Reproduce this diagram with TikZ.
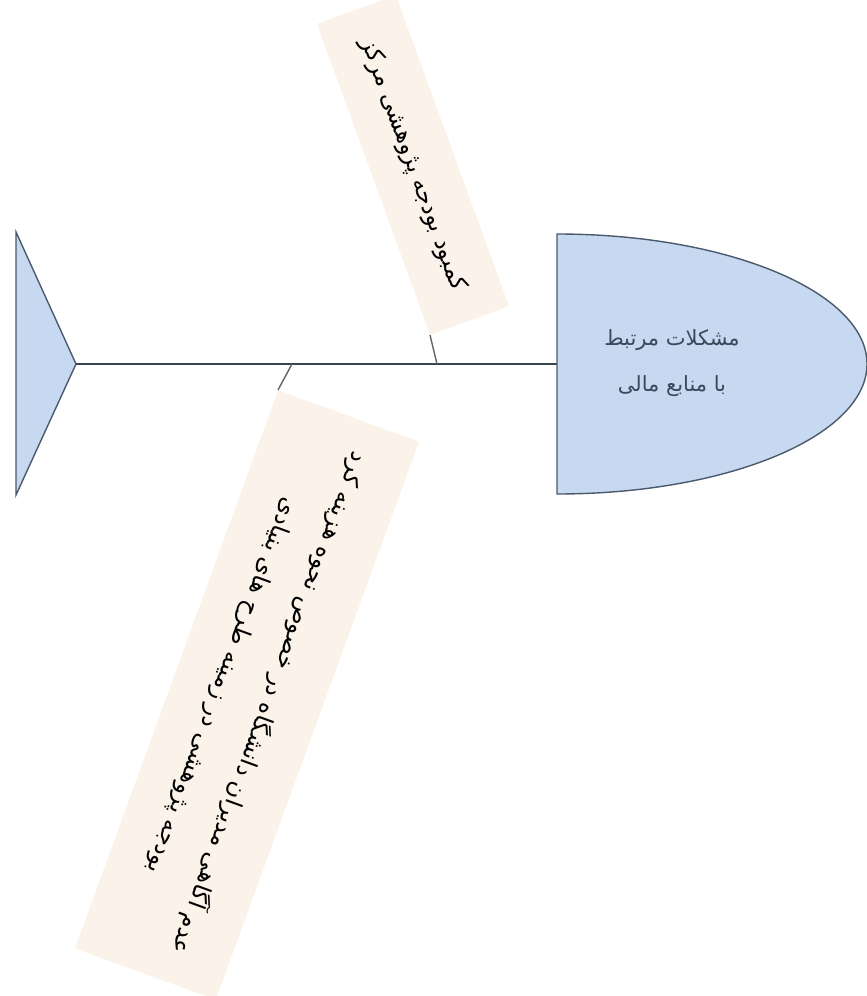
\documentclass[tikz,border=0pt]{standalone}
\usepackage{fontspec}
\newfontfamily\arabicfont[Script=Arabic]{DejaVu Sans}
\TeXXeTstate=1
\definecolor{shapefill}{HTML}{C6D9F1}
\definecolor{shapeline}{HTML}{4A5A6C}
\definecolor{spineline}{HTML}{3A4450}
\definecolor{boneline}{HTML}{5E646C}
\definecolor{boxfill}{HTML}{FBF3EA}
\definecolor{headtext}{HTML}{3A4A5C}
\begin{document}
\begin{tikzpicture}[x=1pt,y=-1pt,
  fishpart/.style={fill=shapefill, draw=shapeline, line width=1.4pt, line join=miter},
  spine/.style={draw=spineline, line width=1.5pt},
  bone/.style={draw=boneline, line width=1.4pt},
  causebox/.style={fill=boxfill, draw=none, inner sep=0pt, align=center,
    font=\arabicfont\fontsize{23.5}{50}\selectfont},
  headlabel/.style={align=center, text=headtext, inner sep=0pt,
    font=\arabicfont\fontsize{21}{46}\selectfont}]
\useasboundingbox (0,0) rectangle (867,996);
% tail
\draw[fishpart] (16,232) -- (76,364) -- (16,495) -- cycle;
\coordinate (tailtip) at (76,364);
\coordinate (headleft) at (557,364);
\coordinate (ub) at (437,364);
\coordinate (lb) at (292,364);
% spine
\draw[spine] (tailtip) -- (headleft);
% head
\draw[fishpart] (557,234) arc[start angle=-90,end angle=90,x radius=310,y radius=130] -- cycle;
\node[headlabel] (head) at (672,363) {\beginR مشکلات مرتبط\endR\\\beginR با منابع مالی\endR};
% cause boxes
\node[causebox, minimum width=331pt, minimum height=84pt, rotate=-70] (upper) at (413,165)
  {\beginR کمبود بودجه پژوهشی مرکز\endR};
\node[causebox, minimum width=594pt, minimum height=150pt, rotate=-110] (lower) at (247,695)
  {\beginR عدم آگاهی مدیران دانشگاه در خصوص نحوه هزینه کرد\endR\\\beginR بودجه پژوهشی در زمینه طرح های بنیادی\endR};
% bones
\draw[bone] (ub) -- (upper.south east);
\draw[bone] (lb) -- (lower.south west);
\end{tikzpicture}
\end{document}
